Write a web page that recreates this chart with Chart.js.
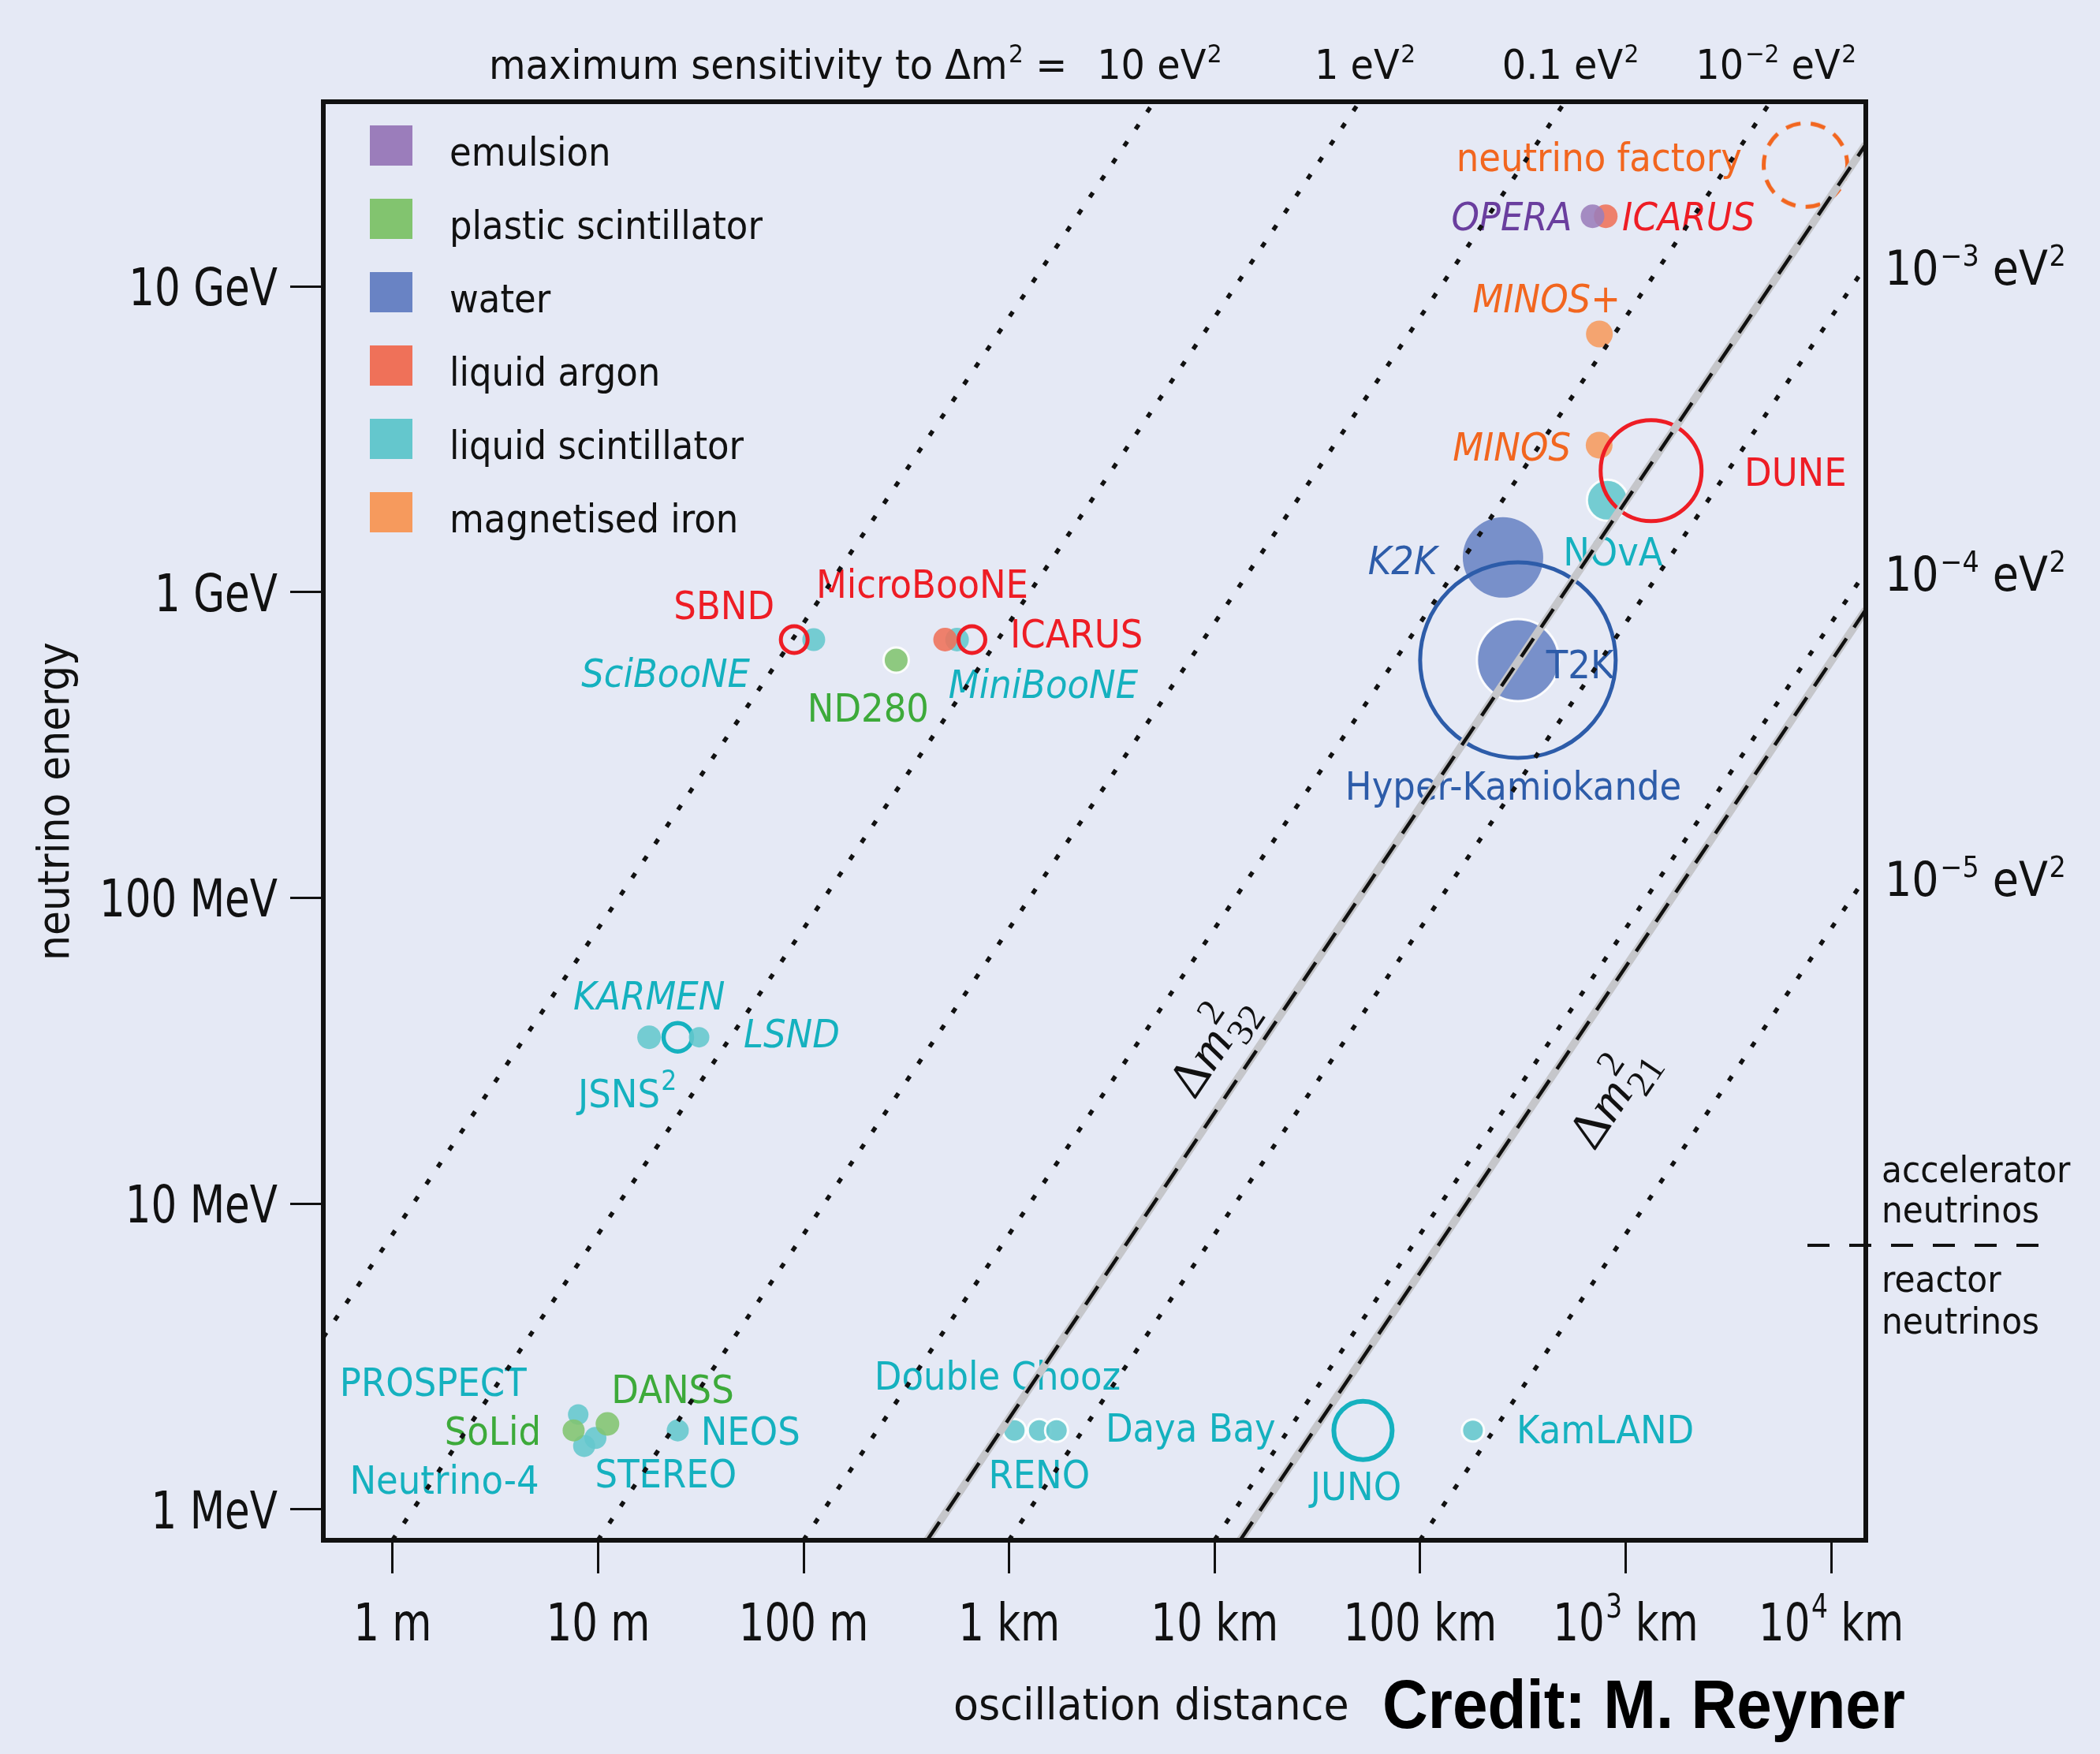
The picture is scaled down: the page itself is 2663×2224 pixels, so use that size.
<!DOCTYPE html>
<html>
<head>
<meta charset="utf-8">
<title>Neutrino oscillation experiments: energy versus distance</title>
<script src="https://cdn.jsdelivr.net/npm/chart.js@4.4.1/dist/chart.umd.min.js"></script>
<style>
  html, body { margin: 0; padding: 0; background: #E5E9F5; }
  canvas { display: block; }
</style>
</head>
<body>
<canvas id="chart" width="2663" height="2224"></canvas>
<script>
// ------------------------------------------------------------------
// DATA
// ------------------------------------------------------------------
const materials = ['emulsion', 'plastic scintillator', 'water', 'liquid argon', 'liquid scintillator', 'magnetised iron'];
const materialColors = ['#9B7DBB', '#82C46F', '#6983C4', '#EF7159', '#64C7CD', '#F69A5D'];
const materialTextColors = ['#6A3E9E', '#3DAA3A', '#2D5CA9', '#EE1D25', '#15B1BF', '#F2661F'];

const expNames = ['OPERA', 'ICARUS (CNGS)', 'MINOS+', 'MINOS', 'neutrino factory', 'DUNE', 'NOvA', 'K2K', 'T2K',
  'Hyper-Kamiokande', 'SBND', 'SciBooNE', 'ND280', 'MicroBooNE', 'MiniBooNE', 'ICARUS (SBN)', 'KARMEN', 'JSNS²', 'LSND',
  'PROSPECT', 'SoLid', 'DANSS', 'STEREO', 'Neutrino-4', 'NEOS', 'Double Chooz', 'RENO', 'Daya Bay', 'JUNO', 'KamLAND'];
// oscillation distance in metres
const expDistance = [6.9e5, 8.0e5, 7.45e5, 7.43e5, 7.5e6, 1.33e6, 8.15e5, 2.53e5, 2.99e5,
  2.99e5, 90, 112, 282, 488, 558, 659, 17.7, 24.4, 31,
  8.0, 7.6, 11.1, 9.7, 8.55, 24.4, 1060, 1400, 1700, 52700, 180700];
// neutrino energy in MeV
const expEnergy = [17000, 17000, 7000, 3030, 25000, 2500, 2000, 1300, 600,
  600, 700, 700, 600, 700, 700, 700, 35, 35, 35,
  2.04, 1.81, 1.90, 1.71, 1.61, 1.81, 1.81, 1.81, 1.81, 1.81, 1.81];
// index into materials
const expMaterial = [0, 3, 5, 5, 5, 3, 4, 2, 2,
  2, 3, 4, 1, 3, 4, 3, 4, 4, 4,
  4, 1, 1, 4, 4, 4, 4, 4, 4, 4, 4];
// future / proposed experiments are drawn as open circles
const expFuture = [false, false, false, false, true, true, false, false, false,
  true, true, false, false, false, false, true, false, true, false,
  false, false, false, false, false, false, false, false, false, true, false];

// axes
const distanceRange = [0.46, 1.474e7];          // m
const energyRange = [0.791, 40270];             // MeV
const distanceTicks = [1, 10, 100, 1e3, 1e4, 1e5, 1e6, 1e7];
const distanceTickLabels = ['1 m', '10 m', '100 m', '1 km', '10 km', '100 km', '10^{3} km', '10^{4} km'];
const energyTicks = [1, 10, 100, 1000, 10000];
const energyTickLabels = ['1 MeV', '10 MeV', '100 MeV', '1 GeV', '10 GeV'];

// lines of maximum sensitivity: where each enters and leaves the frame  [L (m), E (MeV)]
const sensitivityDm2 = [10, 1, 0.1, 0.01, 1e-3, 1e-4, 1e-5];   // eV²
const sensitivityLabels = ['10 eV^{2}', '1 eV^{2}', '0.1 eV^{2}', '10^{−2} eV^{2}', '10^{−3} eV^{2}', '10^{−4} eV^{2}', '10^{−5} eV^{2}'];
const sensitivityFrom = [[0.46, 3.65], [0.997, 0.791], [9.97, 0.791], [99.7, 0.791], [997, 0.791], [9970, 0.791], [99700, 0.791]];
const sensitivityTo = [[5070, 40270], [50700, 40270], [507000, 40270], [5.07e6, 40270], [1.474e7, 11700], [1.474e7, 1170], [1.474e7, 117]];

// measured mass splittings
const measuredNames = ['32', '21'];
const measuredDm2 = [2.5e-3, 7.5e-5];           // eV²
const measuredFrom = [[399, 0.791], [13300, 0.791]];
const measuredTo = [[1.474e7, 29200], [1.474e7, 877]];
const measuredLabelAt = [[9980, 32.4], [8.8e5, 22.0]];

// accelerator / reactor separation energy (MeV)
const acceleratorReactorBoundary = 7.3;

// ------------------------------------------------------------------
// STYLES
// ------------------------------------------------------------------
const markerRadius = [15, 15, 17, 17, 53, 64, 26, 51, 52,
  124, 17, 14.5, 16, 15, 15, 17, 15, 18, 13,
  13, 14, 15, 14, 14, 14, 14.5, 14.5, 14.5, 37, 14];
const markerRing = [0, 0, 0, 0, 0, 0, 1, 0, 1,
  0, 0, 0, 1, 0, 0, 0, 0, 0, 0,
  0, 0, 0, 0, 0, 0, 1, 1, 1, 0, 1];
const markerStroke = [0, 0, 0, 0, 5, 5, 0, 0, 0,
  5, 5, 0, 0, 0, 0, 5, 0, 5.5, 0,
  0, 0, 0, 0, 0, 0, 0, 0, 0, 6, 0];
const markerDashed = [false, false, false, false, true, false, false, false, false,
  false, false, false, false, false, false, false, false, false, false,
  false, false, false, false, false, false, false, false, false, false, false];

// text labels: [text, L (m), E (MeV), colour (material index), italic, align]
const pointLabels = [
  ['neutrino factory', 3.68e6, 2.39e4, 5, false, 'right'],
  ['OPERA', 5.48e5, 1.53e4, 0, true, 'right'],
  ['ICARUS', 9.62e5, 1.53e4, 3, true, 'left'],
  ['MINOS+', 1.80e5, 8240, 5, true, 'left'],
  ['MINOS', 5.41e5, 2700, 5, true, 'right'],
  ['DUNE', 3.78e6, 2234, 3, false, 'left'],
  ['NOvA', 4.96e5, 1222, 4, false, 'left'],
  ['K2K', 1.21e5, 1146, 2, true, 'right'],
  ['T2K', 4.11e5, 524, 2, false, 'left'],
  ['Hyper-Kamiokande', 2.84e5, 209, 2, false, 'center'],
  ['SBND', 72.1, 818, 3, false, 'right'],
  ['MicroBooNE', 115, 957, 3, false, 'left'],
  ['ICARUS', 1012, 658, 3, false, 'left'],
  ['SciBooNE', 54.8, 490, 4, true, 'right'],
  ['ND280', 206, 378, 1, false, 'center'],
  ['MiniBooNE', 507, 452, 4, true, 'left'],
  ['KARMEN', 7.57, 43.2, 4, true, 'left'],
  ['LSND', 51.0, 32.4, 4, true, 'left'],
  ['JSNS^{2}', 7.98, 20.6, 4, false, 'left'],
  ['PROSPECT', 0.553, 2.34, 4, false, 'left'],
  ['SoLid', 5.27, 1.62, 1, false, 'right'],
  ['DANSS', 11.6, 2.23, 1, false, 'left'],
  ['NEOS', 31.6, 1.62, 4, false, 'left'],
  ['STEREO', 9.66, 1.18, 4, false, 'left'],
  ['Neutrino-4', 0.618, 1.12, 4, false, 'left'],
  ['Double Chooz', 221, 2.46, 4, false, 'left'],
  ['Daya Bay', 2944, 1.66, 4, false, 'left'],
  ['RENO', 1400, 1.17, 4, false, 'center'],
  ['JUNO', 4.87e4, 1.07, 4, false, 'center'],
  ['KamLAND', 2.94e5, 1.64, 4, false, 'left']
];

const BG = '#E5E9F5';
const SANS = '"DejaVu Sans", "Liberation Sans", sans-serif';
const SERIF = '"Liberation Serif", "DejaVu Serif", serif';
const INK = '#111111';

// ------------------------------------------------------------------
// HELPERS
// ------------------------------------------------------------------
function withAlpha(hex, a) {
  const n = parseInt(hex.slice(1), 16);
  return `rgba(${n >> 16},${(n >> 8) & 255},${n & 255},${a})`;
}
function parseRich(s) {
  const out = []; const re = /([\^_])\{([^}]*)\}/g; let last = 0, m;
  while ((m = re.exec(s))) {
    if (m.index > last) out.push([s.slice(last, m.index), 0]);
    out.push([m[2], m[1] === '^' ? 1 : 2]);
    last = re.lastIndex;
  }
  if (last < s.length) out.push([s.slice(last), 0]);
  return out;
}
function drawRich(ctx, str, x, y, o) {
  const size = o.size, sx = o.sx ?? 0.9, fam = o.family || SANS;
  const style = (o.italic ? 'italic ' : '') + (o.bold ? 'bold ' : '');
  const parts = parseRich(str);
  ctx.save();
  ctx.translate(x, y);
  if (o.rotate) ctx.rotate(o.rotate);
  ctx.scale(sx, 1);
  ctx.fillStyle = o.color || INK;
  ctx.textBaseline = 'alphabetic';
  ctx.textAlign = 'left';
  const supScale = o.supScale || 0.62;
  const segs = parts.map(([t, k]) => {
    const s = k ? size * supScale : size;
    ctx.font = `${style}${s}px ${fam}`;
    return { t, k, s, w: ctx.measureText(t).width + (k === 1 ? size * 0.03 : 0) };
  });
  const total = segs.reduce((acc, g) => acc + g.w, 0);
  let cx = o.align === 'right' ? -total : (o.align === 'center' ? -total / 2 : 0);
  for (const g of segs) {
    ctx.font = `${style}${g.s}px ${fam}`;
    const dy = g.k === 1 ? -size * (o.supRaise || 0.40) : (g.k === 2 ? size * 0.2 : 0);
    ctx.fillText(g.t, cx + (g.k === 1 ? size * 0.03 : 0), dy);
    cx += g.w;
  }
  ctx.restore();
}
function drawDm2(ctx, sub, cx, cy, angle) {
  const S = 66, s2 = S * 0.72;
  ctx.save();
  ctx.translate(cx, cy);
  ctx.rotate(angle);
  ctx.fillStyle = INK;
  ctx.textBaseline = 'alphabetic';
  ctx.textAlign = 'left';
  ctx.font = `${S}px ${SERIF}`; const wD = ctx.measureText('Δ').width;
  ctx.font = `italic ${S}px ${SERIF}`; const wM = ctx.measureText('m').width;
  ctx.font = `${s2}px ${SERIF}`;
  const wSup = ctx.measureText('2').width, wSub = ctx.measureText(sub).width;
  const total = wD + wM + Math.max(wSup, wSub) + 3;
  const x0 = -total / 2, base = S * 0.25;
  ctx.font = `${S}px ${SERIF}`; ctx.fillText('Δ', x0, base);
  ctx.font = `italic ${S}px ${SERIF}`; ctx.fillText('m', x0 + wD, base);
  ctx.font = `${s2}px ${SERIF}`;
  ctx.fillText('2', x0 + wD + wM + 3, base - S * 0.46);
  ctx.fillText(sub, x0 + wD + wM + 3, base + S * 0.24);
  ctx.restore();
}
function dashedRing(r, color, w, dash) {
  const c = document.createElement('canvas');
  const s = Math.ceil(2 * r + w + 6);
  c.width = c.height = s;
  const g = c.getContext('2d');
  g.strokeStyle = color; g.lineWidth = w; g.setLineDash(dash);
  g.beginPath(); g.arc(s / 2, s / 2, r, 0, 2 * Math.PI); g.stroke();
  return c;
}
const pt = p => ({ x: p[0], y: p[1] });

// ------------------------------------------------------------------
// DATASETS
// ------------------------------------------------------------------
const lineDatasets = [];
measuredDm2.forEach((v, i) => lineDatasets.push({
  label: 'Δm²' + measuredNames[i], data: [pt(measuredFrom[i]), pt(measuredTo[i])], showLine: true,
  borderColor: INK, borderWidth: 4.5, borderDash: [28, 17], pointRadius: 0, clip: 0, order: 0
}));
measuredDm2.forEach((v, i) => lineDatasets.push({
  label: 'Δm²' + measuredNames[i] + ' band', data: [pt(measuredFrom[i]), pt(measuredTo[i])], showLine: true,
  borderColor: '#C5C6CA', borderWidth: 10, pointRadius: 0, clip: 0, order: 0
}));
sensitivityDm2.forEach((v, i) => lineDatasets.push({
  label: 'maximum sensitivity ' + v + ' eV²', data: [pt(sensitivityFrom[i]), pt(sensitivityTo[i])], showLine: true,
  borderColor: INK, borderWidth: 5.5, borderDash: [7, 19], pointRadius: 0, clip: 0, order: 0
}));

const pointDatasets = materials.map((m, mi) => {
  const idx = expNames.map((_, i) => i).filter(i => expMaterial[i] === mi);
  return {
    label: m,
    data: idx.map(i => ({ x: expDistance[i], y: expEnergy[i] })),
    showLine: false,
    order: 5,
    pointRadius: idx.map(i => markerRadius[i]),
    pointStyle: idx.map(i => markerDashed[i]
      ? dashedRing(markerRadius[i], materialTextColors[mi], markerStroke[i], [19, 13]) : 'circle'),
    backgroundColor: idx.map(i => expFuture[i] ? 'rgba(0,0,0,0)' : withAlpha(materialColors[mi], 0.88)),
    borderColor: idx.map(i => expFuture[i] ? materialTextColors[mi]
      : (markerRing[i] ? 'rgba(255,255,255,0.92)' : 'rgba(0,0,0,0)')),
    borderWidth: idx.map(i => expFuture[i] ? markerStroke[i] : (markerRing[i] ? 3 : 0))
  };
});
const FIRST_POINT_DATASET = lineDatasets.length;   // the last point dataset to be painted

// ------------------------------------------------------------------
// ANNOTATIONS
// ------------------------------------------------------------------
const annotations = {
  id: 'annotations',
  beforeDraw(chart) {
    const c = chart.ctx;
    c.save(); c.fillStyle = BG; c.fillRect(0, 0, chart.width, chart.height); c.restore();
  },
  beforeDatasetsDraw(chart) {
    const { ctx, chartArea: a, scales: { x, y } } = chart;
    // legend
    materials.forEach((m, i) => {
      const top = a.top + 30 + i * 93;
      ctx.fillStyle = materialColors[i];
      ctx.fillRect(a.left + 59, top, 54, 51);
      drawRich(ctx, m, a.left + 160, top + 51, { size: 50, color: INK });
    });
    // Δm² labels along the measured lines
    measuredDm2.forEach((v, i) => {
      const x1 = x.getPixelForValue(measuredFrom[i][0]), y1 = y.getPixelForValue(measuredFrom[i][1]);
      const x2 = x.getPixelForValue(measuredTo[i][0]), y2 = y.getPixelForValue(measuredTo[i][1]);
      const ang = Math.atan2(y2 - y1, x2 - x1);
      drawDm2(ctx, measuredNames[i], x.getPixelForValue(measuredLabelAt[i][0]), y.getPixelForValue(measuredLabelAt[i][1]), ang);
    });
  },
  // experiment labels: above the markers, below the lines
  afterDatasetDraw(chart, args) {
    if (args.index !== FIRST_POINT_DATASET) return;
    const { ctx, scales: { x, y } } = chart;
    pointLabels.forEach(([t, L, E, mi, it, al]) => {
      drawRich(ctx, t, x.getPixelForValue(L), y.getPixelForValue(E),
        { size: 50, color: materialTextColors[mi], italic: it, align: al, supScale: 0.7, supRaise: 0.45 });
    });
  },
  afterDatasetsDraw(chart) {
    const { ctx, chartArea: a, scales: { x, y } } = chart;
    // frame
    ctx.save();
    ctx.strokeStyle = INK; ctx.lineWidth = 6;
    ctx.strokeRect(a.left, a.top, a.right - a.left, a.bottom - a.top);
    ctx.restore();

    // tick labels (condensed face)
    energyTicks.forEach((v, i) => {
      drawRich(ctx, energyTickLabels[i], a.left - 58, y.getPixelForValue(v) + 24, { size: 66, sx: 0.78, align: 'right' });
    });
    distanceTicks.forEach((v, i) => {
      drawRich(ctx, distanceTickLabels[i], x.getPixelForValue(v), a.bottom + 127,
        { size: 66, sx: 0.78, align: 'center', supScale: 0.64, supRaise: 0.44 });
    });

    // title line above the frame
    drawRich(ctx, 'maximum sensitivity to Δm^{2} =', a.left + 210, a.top - 29, { size: 52, sx: 0.92 });
    sensitivityDm2.forEach((v, i) => {
      const px = x.getPixelForValue(sensitivityTo[i][0]);
      const py = y.getPixelForValue(sensitivityTo[i][1]);
      if (py <= a.top + 2) {
        drawRich(ctx, sensitivityLabels[i], px + 7, a.top - 29, { size: 52, sx: 0.92, align: 'center' });
      } else {
        drawRich(ctx, sensitivityLabels[i], a.right + 24, py + 24, { size: 60 });
      }
    });

    // accelerator / reactor separation
    const by = y.getPixelForValue(acceleratorReactorBoundary);
    ctx.save();
    ctx.strokeStyle = INK; ctx.lineWidth = 4; ctx.setLineDash([28, 25]);
    ctx.beginPath(); ctx.moveTo(a.right - 74, by); ctx.lineTo(a.right + 224, by); ctx.stroke();
    ctx.restore();
    drawRich(ctx, 'accelerator', a.right + 20, by - 80, { size: 47 });
    drawRich(ctx, 'neutrinos', a.right + 20, by - 29, { size: 47 });
    drawRich(ctx, 'reactor', a.right + 20, by + 59, { size: 47 });
    drawRich(ctx, 'neutrinos', a.right + 20, by + 112, { size: 47 });

    // axis titles
    drawRich(ctx, 'neutrino energy', 87, (a.top + a.bottom) / 2 - 25, { size: 56, align: 'center', rotate: -Math.PI / 2 });
    drawRich(ctx, 'oscillation distance', 1209, a.bottom + 227, { size: 55, sx: 0.95 });
    drawRich(ctx, 'Credit: M. Reyner', 1753, a.bottom + 238,
      { size: 88, sx: 0.91, bold: true, family: '"Liberation Sans", Arial, sans-serif', color: '#000' });
  }
};

// ------------------------------------------------------------------
// CHART
// ------------------------------------------------------------------
new Chart(document.getElementById('chart'), {
  type: 'scatter',
  data: { datasets: [...lineDatasets, ...pointDatasets] },
  options: {
    responsive: false,
    animation: false,
    devicePixelRatio: 1,
    events: [],
    layout: { padding: { left: 0, top: 124, right: 297, bottom: 0 } },
    plugins: { legend: { display: false }, tooltip: { enabled: false } },
    scales: {
      x: {
        type: 'logarithmic',
        min: distanceRange[0], max: distanceRange[1],
        afterBuildTicks: s => { s.ticks = distanceTicks.map(v => ({ value: v })); },
        afterFit: s => { s.height = 271; },
        ticks: { display: false, autoSkip: false },
        grid: { display: true, drawOnChartArea: false, drawTicks: true, tickLength: 42, tickWidth: 3, tickColor: INK },
        border: { display: false }
      },
      y: {
        type: 'logarithmic',
        min: energyRange[0], max: energyRange[1],
        afterBuildTicks: s => { s.ticks = energyTicks.map(v => ({ value: v })); },
        afterFit: s => { s.width = 410; },
        ticks: { display: false, autoSkip: false },
        grid: { display: true, drawOnChartArea: false, drawTicks: true, tickLength: 42, tickWidth: 3, tickColor: INK },
        border: { display: false }
      }
    }
  },
  plugins: [annotations]
});
</script>
</body>
</html>
